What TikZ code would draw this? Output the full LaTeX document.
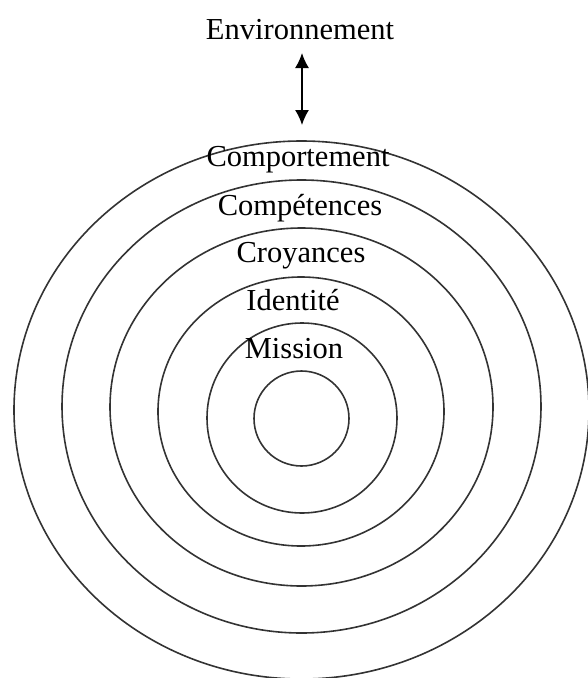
\documentclass[tikz,border=0pt]{standalone}
\usepackage{fontspec}
\setmainfont{Liberation Serif}
\usetikzlibrary{arrows.meta}
\tikzset{
  anneau/.style={line width=1.6pt, black!80},
  niveau/.style={anchor=base, inner sep=0pt, font=\fontsize{30.5}{36}\selectfont},
}
\begin{document}
\begin{tikzpicture}[x=1pt, y=-1pt]
  \useasboundingbox (0,0) rectangle (587,678);

  % Cercles concentriques
  \foreach \cx/\cy/\rx/\ry in {301.5/418.5/47.5/47.5, 302/418/95/95, 301/411.5/143/134.5,
                               301.5/407/191.5/179, 301.5/406.5/239.5/226.5, 301.5/410/287.5/269}
    \draw[anneau] (\cx,\cy) ellipse [x radius=\rx pt, y radius=\ry pt];

  % Niveaux
  \node[niveau] (env) at (300,39.5) {Environnement};
  \node[niveau] (comp) at (298,166) {Comportement};
  \node[niveau] (compet) at (300,215) {Compétences};
  \node[niveau] (croy) at (301,262) {Croyances};
  \node[niveau] (ident) at (293,310) {Identité};
  \node[niveau] (mission) at (294,358) {Mission};

  % Fleche double
  \coordinate (haut) at (302,53);
  \coordinate (bas) at (302,125);
  \draw[{Latex[length=15pt,width=14pt]}-{Latex[length=15pt,width=14pt]}, line width=1.5pt] (haut) -- (bas);
\end{tikzpicture}
\end{document}
